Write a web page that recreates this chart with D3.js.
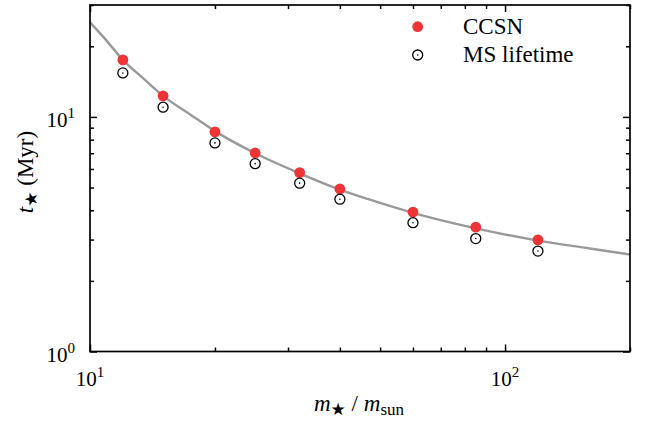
<!DOCTYPE html>
<html>
<head>
<meta charset="utf-8">
<script src="https://cdn.jsdelivr.net/npm/d3@7"></script>
<style>
  html, body { margin: 0; padding: 0; background: #fff; }
  svg { display: block; font-family: "Liberation Serif", "Times New Roman", serif; }
</style>
</head>
<body>
<svg id="chart" width="649" height="428"></svg>
<script>
// Stellar masses (in solar masses)
const masses = [12, 15, 20, 25, 32, 40, 60, 85, 120];
// Time to core-collapse supernova (Myr)
const ccsnTimes = [17.5, 12.3, 8.63, 7.02, 5.79, 4.93, 3.93, 3.39, 2.99];
// Main-sequence lifetime (Myr)
const msTimes = [15.4, 11.0, 7.75, 6.32, 5.22, 4.46, 3.54, 3.03, 2.68];
// Fitted relation, sampled along the mass range
const fitMasses = [10, 11, 12, 13.5, 15, 17.5, 20, 25, 32, 40, 50, 60, 85, 120, 160, 200];
const fitTimes  = [25.3, 21.0, 17.5, 14.5, 12.3, 10.2, 8.7, 7.0, 5.75, 4.9, 4.3, 3.9, 3.35, 2.97, 2.75, 2.59];
// Axis ticks
const xMajor = [10, 100];
const xMinor = [20, 30, 40, 50, 60, 70, 80, 90, 200];
const yMajor = [1, 10];
const yMinor = [2, 3, 4, 5, 6, 7, 8, 9, 20, 30];
const legendLabels = ["CCSN", "MS lifetime"];

const svg = d3.select("#chart");
const L = 90, R = 630, T = 5, B = 351.5;

const x = d3.scaleLog().domain([10, 200]).range([L, R]);
const y = d3.scaleLog().domain([1, 30]).range([B, T]);

const red = "#ee3434";

// Fitted curve
const line = d3.line()
  .x((d, i) => x(fitMasses[i]))
  .y(d => y(d))
  .curve(d3.curveMonotoneX);
svg.append("path")
  .attr("d", line(fitTimes))
  .attr("fill", "none")
  .attr("stroke", "#999")
  .attr("stroke-width", 2.4);

// Axes: ticks point inward on all four sides
function addAxis(gen, tr, vals, size) {
  const g = svg.append("g").attr("transform", tr)
    .call(gen.tickValues(vals).tickSize(size).tickSizeOuter(0).tickFormat(""));
  g.select(".domain").remove();
  g.selectAll("line").attr("stroke", "#000").attr("stroke-width", 1.5);
  return g;
}
const MAJ = 7, MIN = 4;
addAxis(d3.axisBottom(x), `translate(0,${B})`, xMajor, -MAJ);
addAxis(d3.axisBottom(x), `translate(0,${B})`, xMinor, -MIN);
addAxis(d3.axisTop(x), `translate(0,${T})`, xMajor, -MAJ);
addAxis(d3.axisTop(x), `translate(0,${T})`, xMinor, -MIN);
addAxis(d3.axisLeft(y), `translate(${L},0)`, yMajor, -MAJ);
addAxis(d3.axisLeft(y), `translate(${L},0)`, yMinor, -MIN);
addAxis(d3.axisRight(y), `translate(${R},0)`, yMajor, -MAJ);
addAxis(d3.axisRight(y), `translate(${R},0)`, yMinor, -MIN);

// Frame
svg.append("rect")
  .attr("x", L).attr("y", T).attr("width", R - L).attr("height", B - T)
  .attr("fill", "none").attr("stroke", "#000").attr("stroke-width", 1.7);

// Power-of-ten tick labels
function powLabel(sel, v) {
  const e = Math.round(Math.log10(v));
  sel.append("tspan").text("10");
  sel.append("tspan").attr("dy", -9).attr("font-size", 15).text(e);
}
xMajor.forEach(v => {
  svg.append("text")
    .attr("x", x(v)).attr("y", B + 34)
    .attr("text-anchor", "middle").attr("font-size", 21)
    .call(powLabel, v);
});
yMajor.forEach(v => {
  svg.append("text")
    .attr("x", L - 15).attr("y", y(v) + 10)
    .attr("text-anchor", "end").attr("font-size", 21)
    .call(powLabel, v);
});

// Data points
const pts = svg.append("g");
pts.selectAll("circle.ccsn").data(masses).join("circle")
  .attr("class", "ccsn")
  .attr("cx", d => x(d)).attr("cy", (d, i) => y(ccsnTimes[i]))
  .attr("r", 5.4).attr("fill", red);
const ms = pts.selectAll("g.ms").data(masses).join("g")
  .attr("class", "ms")
  .attr("transform", (d, i) => `translate(${x(d)},${y(msTimes[i])})`);
ms.append("circle").attr("r", 5).attr("fill", "none").attr("stroke", "#000").attr("stroke-width", 1.3);
ms.append("circle").attr("r", 0.8).attr("fill", "#000");

// Legend
const lg = svg.append("g");
lg.append("circle").attr("cx", 417.7).attr("cy", 26.7).attr("r", 5.4).attr("fill", red);
lg.append("circle").attr("cx", 417.7).attr("cy", 55).attr("r", 5).attr("fill", "none").attr("stroke", "#000").attr("stroke-width", 1.3);
lg.append("circle").attr("cx", 417.7).attr("cy", 55).attr("r", 0.8).attr("fill", "#000");
lg.selectAll("text").data(legendLabels).join("text")
  .attr("x", 463).attr("y", (d, i) => 33.5 + i * 28.5)
  .attr("font-size", 23).text(d => d);

// Axis titles
const xt = svg.append("text")
  .attr("x", 359).attr("y", 411).attr("text-anchor", "middle").attr("font-size", 23);
xt.append("tspan").attr("font-style", "italic").text("m");
xt.append("tspan").attr("dy", 4).attr("font-size", 17).attr("font-family", "DejaVu Sans").text("★");
xt.append("tspan").attr("dy", -4).text(" / ");
xt.append("tspan").attr("font-style", "italic").text("m");
xt.append("tspan").attr("dy", 4).attr("font-size", 17).text("sun");

const yt = svg.append("text")
  .attr("transform", "translate(33,172) rotate(-90)")
  .attr("text-anchor", "middle").attr("font-size", 23);
yt.append("tspan").attr("font-style", "italic").text("t");
yt.append("tspan").attr("dy", 4).attr("font-size", 17).attr("font-family", "DejaVu Sans").text("★");
yt.append("tspan").attr("dy", -4).text(" (Myr)");
</script>
</body>
</html>
